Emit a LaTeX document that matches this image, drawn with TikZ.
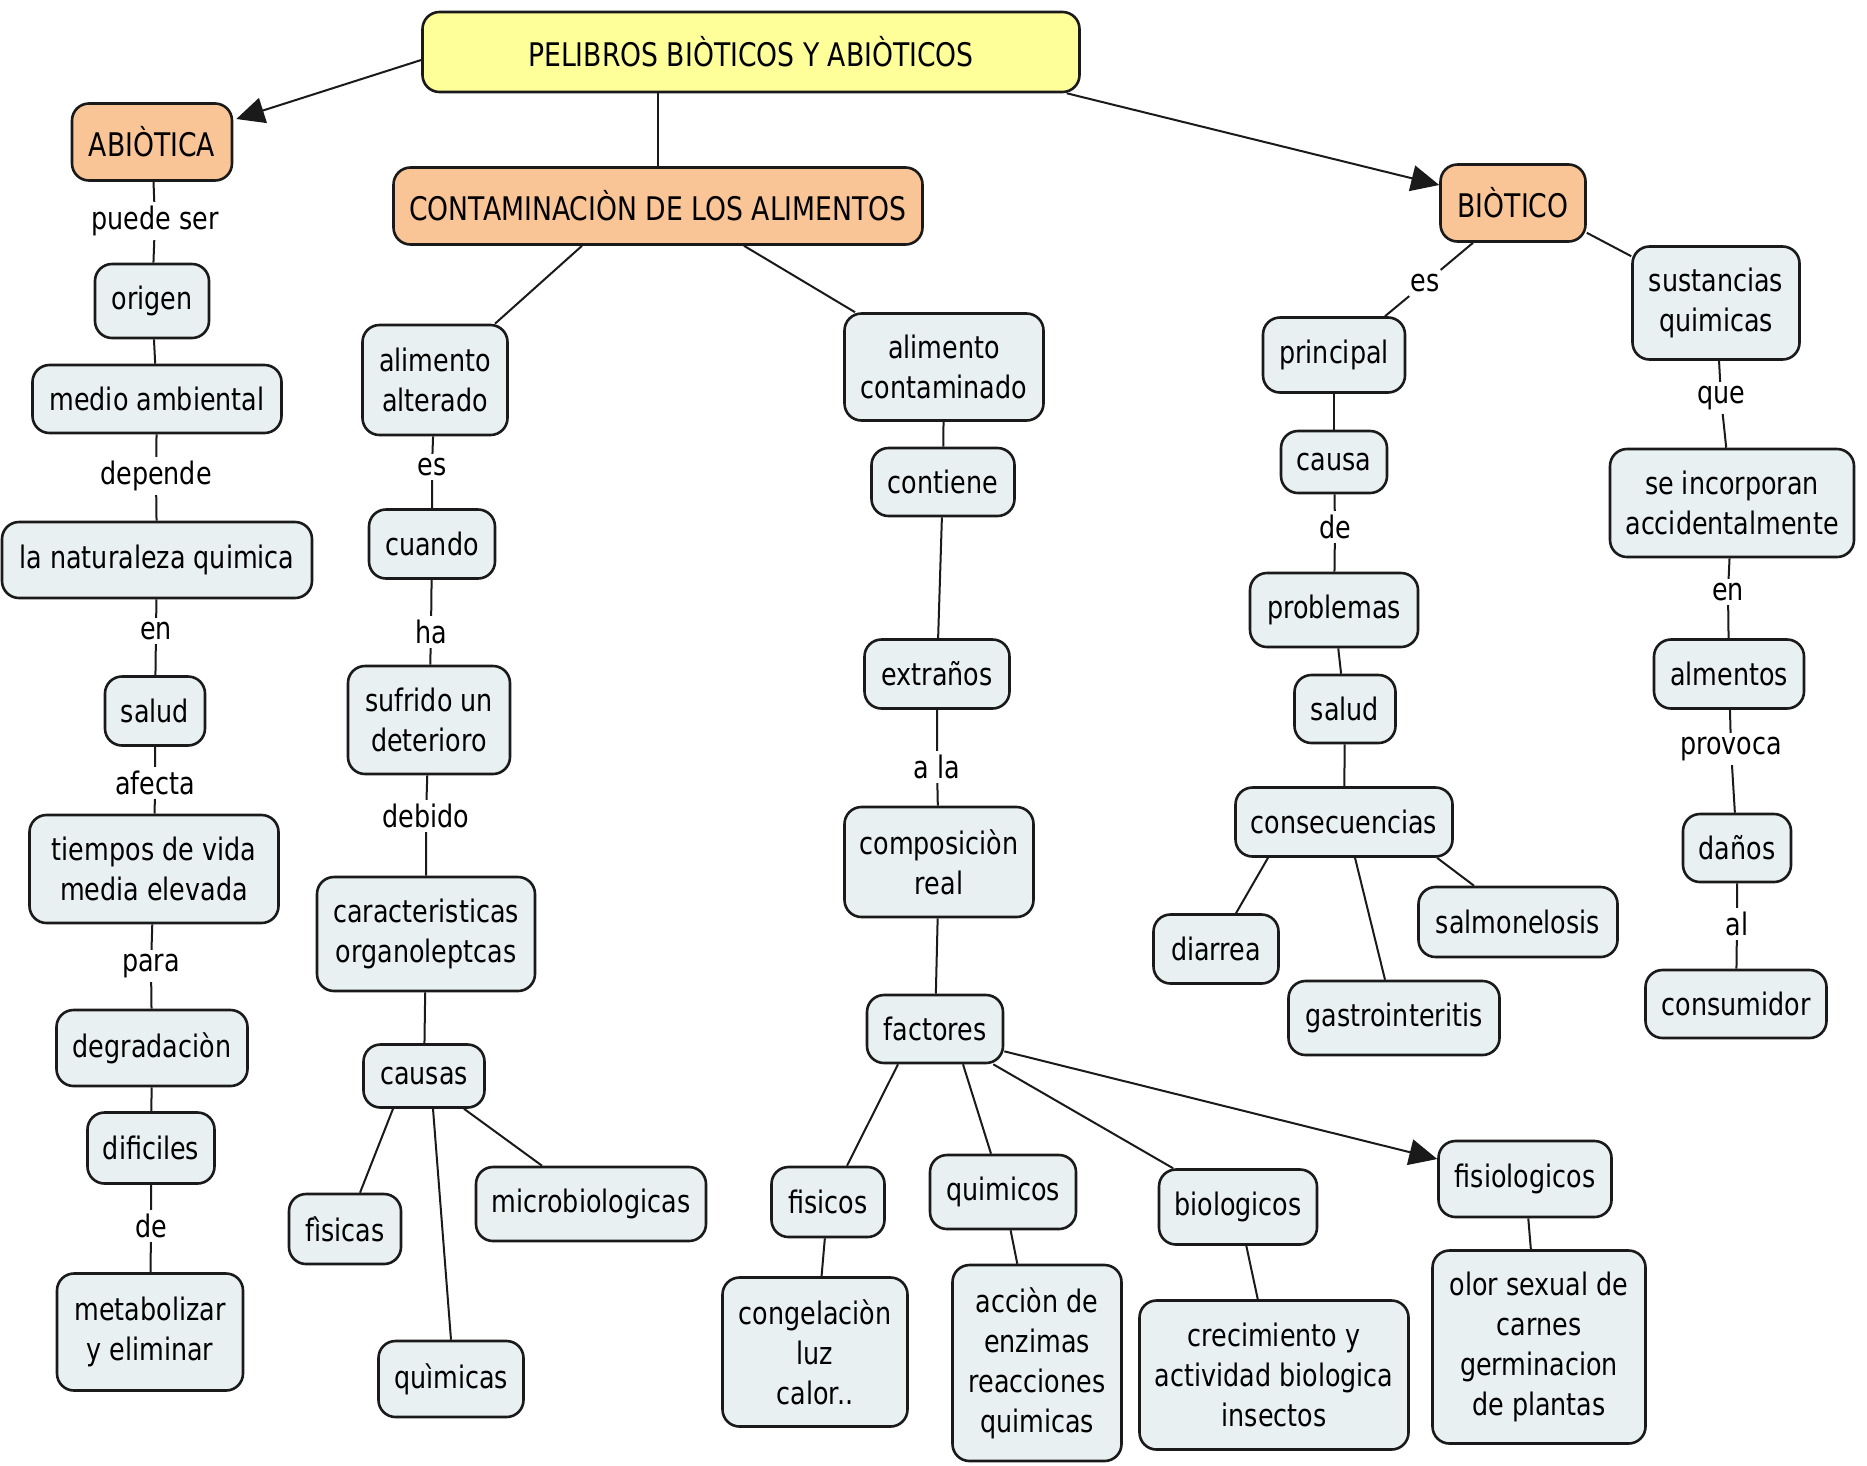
\documentclass[tikz,border=0pt]{standalone}
\usepackage{fontspec}
\setmainfont{DejaVu Sans}[FakeStretch=0.82]
\usetikzlibrary{arrows.meta}
\definecolor{boxfill}{HTML}{E9F0F2}
\definecolor{orangefill}{HTML}{F9C596}
\definecolor{titlefill}{HTML}{FFFF99}
\definecolor{edgecol}{HTML}{1A1A1A}
\newcommand\mfs{\fontsize{31}{40}\selectfont}
\newcommand\cfs{\fontsize{32.5}{40}\selectfont}
\tikzset{
  box/.style={draw=edgecol, line width=2.6pt, rounded corners=17pt, fill=boxfill, align=center, inner sep=0pt, font=\mfs},
  obox/.style={box, fill=orangefill, font=\cfs},
  tbox/.style={box, fill=titlefill, font=\cfs},
  lbl/.style={fill=white, inner sep=4pt, font=\mfs},
  conn/.style={line width=2pt, draw=edgecol},
  arr/.style={conn, -{Triangle[length=28pt,width=26pt]}}
}
\begin{document}
\begin{tikzpicture}[x=1pt,y=-1pt]
\useasboundingbox[fill=white] (0,0) rectangle (1867,1465);
% ---------- nodes ----------
\node[tbox, minimum width=657, minimum height=80] (title) at (751,52) {PELIBROS BIÒTICOS Y ABIÒTICOS};
\node[obox, minimum width=160, minimum height=77] (abio) at (152,142) {ABIÒTICA};
\node[obox, minimum width=529, minimum height=77] (cont) at (658,206) {CONTAMINACIÒN DE LOS ALIMENTOS};
\node[obox, minimum width=145, minimum height=77] (bio) at (1513,203) {BIÒTICO};
% left column
\node[box, minimum width=114, minimum height=74] (origen) at (152,301) {origen};
\node[box, minimum width=249, minimum height=68] (medio) at (157,399) {medio ambiental};
\node[box, minimum width=310, minimum height=76] (natur) at (157,560) {la naturaleza quimica};
\node[box, minimum width=100, minimum height=69] (saludA) at (155,711) {salud};
\node[box, minimum width=249, minimum height=108] (tiempos) at (154,869) {tiempos de vida\\media elevada};
\node[box, minimum width=191, minimum height=76] (degr) at (152,1048) {degradaciòn};
\node[box, minimum width=127, minimum height=71] (dific) at (151,1148) {dificiles};
\node[box, minimum width=186, minimum height=117] (metab) at (150,1332) {metabolizar\\y eliminar};
\node[lbl] (lpuede) at (155,221) {puede ser};
\node[lbl] (ldepende) at (156,476) {depende};
\node[lbl] (len) at (156,631) {en};
\node[lbl] (lafecta) at (155,783) {afecta};
\node[lbl] (lpara) at (151,966) {para};
\node[lbl] (lde) at (151,1226) {de};
% alimento alterado column
\node[box, minimum width=145, minimum height=110] (alter) at (435,380) {alimento\\alterado};
\node[box, minimum width=126, minimum height=69] (cuando) at (432,544) {cuando};
\node[box, minimum width=162, minimum height=108] (sufrido) at (429,720) {sufrido un\\deterioro};
\node[box, minimum width=218, minimum height=114] (caract) at (426,934) {caracteristicas\\organoleptcas};
\node[box, minimum width=121, minimum height=63] (causas) at (424,1076) {causas};
\node[box, minimum width=112, minimum height=70] (fisicas) at (345,1229) {fìsicas};
\node[box, minimum width=145, minimum height=76] (quimicas) at (451,1379) {quìmicas};
\node[box, minimum width=230, minimum height=74] (micro) at (591,1204) {microbiologicas};
\node[lbl] (les) at (432,467) {es};
\node[lbl] (lha) at (431,632) {ha};
\node[lbl] (ldebido) at (426,816) {debido};
% alimento contaminado column
\node[box, minimum width=199, minimum height=107] (acont) at (944,367) {alimento\\contaminado};
\node[box, minimum width=143, minimum height=68] (contiene) at (943,482) {contiene};
\node[box, minimum width=145, minimum height=69] (extr) at (937,674) {extraños};
\node[box, minimum width=189, minimum height=110] (compo) at (939,862) {composiciòn\\real};
\node[box, minimum width=136, minimum height=68] (fact) at (935,1029) {factores};
\node[box, minimum width=113, minimum height=70] (fisicos) at (828,1202) {fisicos};
\node[box, minimum width=146, minimum height=74] (quimicos) at (1003,1192) {quimicos};
\node[box, minimum width=158, minimum height=75] (biolog) at (1238,1207) {biologicos};
\node[box, minimum width=173, minimum height=76] (fisiol) at (1525,1179) {fisiologicos};
\node[box, minimum width=185, minimum height=149] (congel) at (815,1352) {congelaciòn\\luz\\calor..};
\node[box, minimum width=169, minimum height=196] (accion) at (1037,1363) {acciòn de\\enzimas\\reacciones\\quimicas};
\node[box, minimum width=269, minimum height=149] (crec) at (1274,1375) {crecimiento y\\actividad biologica\\insectos};
\node[box, minimum width=213, minimum height=193] (olor) at (1539,1347) {olor sexual de\\carnes\\germinacion\\de plantas};
\node[lbl] (lala) at (937,767) {a la};
% biotico column
\node[box, minimum width=142, minimum height=75] (princ) at (1334,355) {principal};
\node[box, minimum width=106, minimum height=62] (causa) at (1334,462) {causa};
\node[box, minimum width=168, minimum height=74] (probl) at (1334,610) {problemas};
\node[box, minimum width=101, minimum height=68] (saludB) at (1345,709) {salud};
\node[box, minimum width=217, minimum height=69] (conse) at (1344,822) {consecuencias};
\node[box, minimum width=125, minimum height=69] (diarrea) at (1216,949) {diarrea};
\node[box, minimum width=211, minimum height=74] (gastro) at (1394,1018) {gastrointeritis};
\node[box, minimum width=199, minimum height=70] (salmo) at (1518,922) {salmonelosis};
\node[lbl] (lesB) at (1425,283) {es};
\node[lbl] (ldeB) at (1335,527) {de};
% sustancias column
\node[box, minimum width=167, minimum height=113] (sust) at (1716,303) {sustancias\\quimicas};
\node[box, minimum width=244, minimum height=108] (incorp) at (1732,503) {se incorporan\\accidentalmente};
\node[box, minimum width=150, minimum height=69] (almen) at (1729,674) {almentos};
\node[box, minimum width=108, minimum height=68] (danos) at (1737,848) {daños};
\node[box, minimum width=181, minimum height=68] (consum) at (1736,1004) {consumidor};
\node[lbl] (lque) at (1721,398) {que};
\node[lbl] (lenC) at (1728,592) {en};
\node[lbl] (lprovoca) at (1731,749) {provoca};
\node[lbl] (lal) at (1737,924) {al};
% ---------- connectors ----------
\draw[arr] ([yshift=-8pt]title.west) -- ([yshift=23pt,xshift=3pt]abio.east);
\draw[arr] ([xshift=-14pt]title.south east) -- ([yshift=18pt]bio.west);
\draw[conn] (cont.north) -- (cont.north |- title.south);
\draw[conn] ([xshift=-76pt]cont.south) -- ([xshift=60pt]alter.north);
\draw[conn] ([xshift=86pt]cont.south) -- ([xshift=-89pt]acont.north);
% left column
\draw[conn] (abio) -- (lpuede) -- (origen);
\draw[conn] (origen) -- (medio);
\draw[conn] (medio) -- (ldepende) -- (natur);
\draw[conn] (natur) -- (len) -- (saludA);
\draw[conn] (saludA) -- (lafecta) -- (tiempos);
\draw[conn] (tiempos) -- (lpara) -- (degr);
\draw[conn] (degr) -- (dific);
\draw[conn] (dific) -- (lde) -- (metab);
% alterado column
\draw[conn] (alter) -- (les) -- (cuando);
\draw[conn] (cuando) -- (lha) -- (sufrido);
\draw[conn] (sufrido) -- (ldebido) -- (caract);
\draw[conn] (caract) -- (causas);
\draw[conn] ([xshift=-31pt]causas.south) -- ([xshift=15pt]fisicas.north);
\draw[conn] ([xshift=9pt]causas.south) -- (quimicas.north);
\draw[conn] ([xshift=40pt]causas.south) -- ([xshift=-49pt]micro.north);
% contaminado column
\draw[conn] (acont) -- (contiene);
\draw[conn] (contiene) -- (extr);
\draw[conn] (extr) -- (lala) -- (compo);
\draw[conn] (compo) -- (fact);
\draw[conn] ([xshift=-37pt]fact.south) -- ([xshift=19pt]fisicos.north);
\draw[conn] ([xshift=28pt]fact.south) -- ([xshift=-12pt]quimicos.north);
\draw[conn] ([xshift=-11pt]fact.south east) -- ([xshift=-65pt]biolog.north);
\draw[arr] ([yshift=13pt]fact.south east) -- ([yshift=20pt]fisiol.west);
\draw[conn] (fisicos) -- (congel);
\draw[conn] (quimicos) -- (accion);
\draw[conn] (biolog) -- (crec);
\draw[conn] (fisiol) -- (olor);
% biotico column
\draw[conn] ([xshift=-40pt]bio.south) -- (lesB) -- ([xshift=51pt]princ.north);
\draw[conn] (princ) -- (causa);
\draw[conn] (causa) -- (ldeB) -- (probl);
\draw[conn] (probl) -- (saludB);
\draw[conn] (saludB) -- (conse);
\draw[conn] ([xshift=-76pt]conse.south) -- ([xshift=20pt]diarrea.north);
\draw[conn] ([xshift=11pt]conse.south) -- ([xshift=-9pt]gastro.north);
\draw[conn] ([xshift=93pt]conse.south) -- ([xshift=-44pt]salmo.north);
% sustancias column
\draw[conn] ([yshift=10pt]bio.south east) -- ([yshift=-11pt]sust.north west);
\draw[conn] (sust) -- (lque) -- (incorp);
\draw[conn] (incorp) -- (lenC) -- (almen);
\draw[conn] (almen) -- (lprovoca) -- (danos);
\draw[conn] (danos) -- (lal) -- (consum);
\end{tikzpicture}
\end{document}
